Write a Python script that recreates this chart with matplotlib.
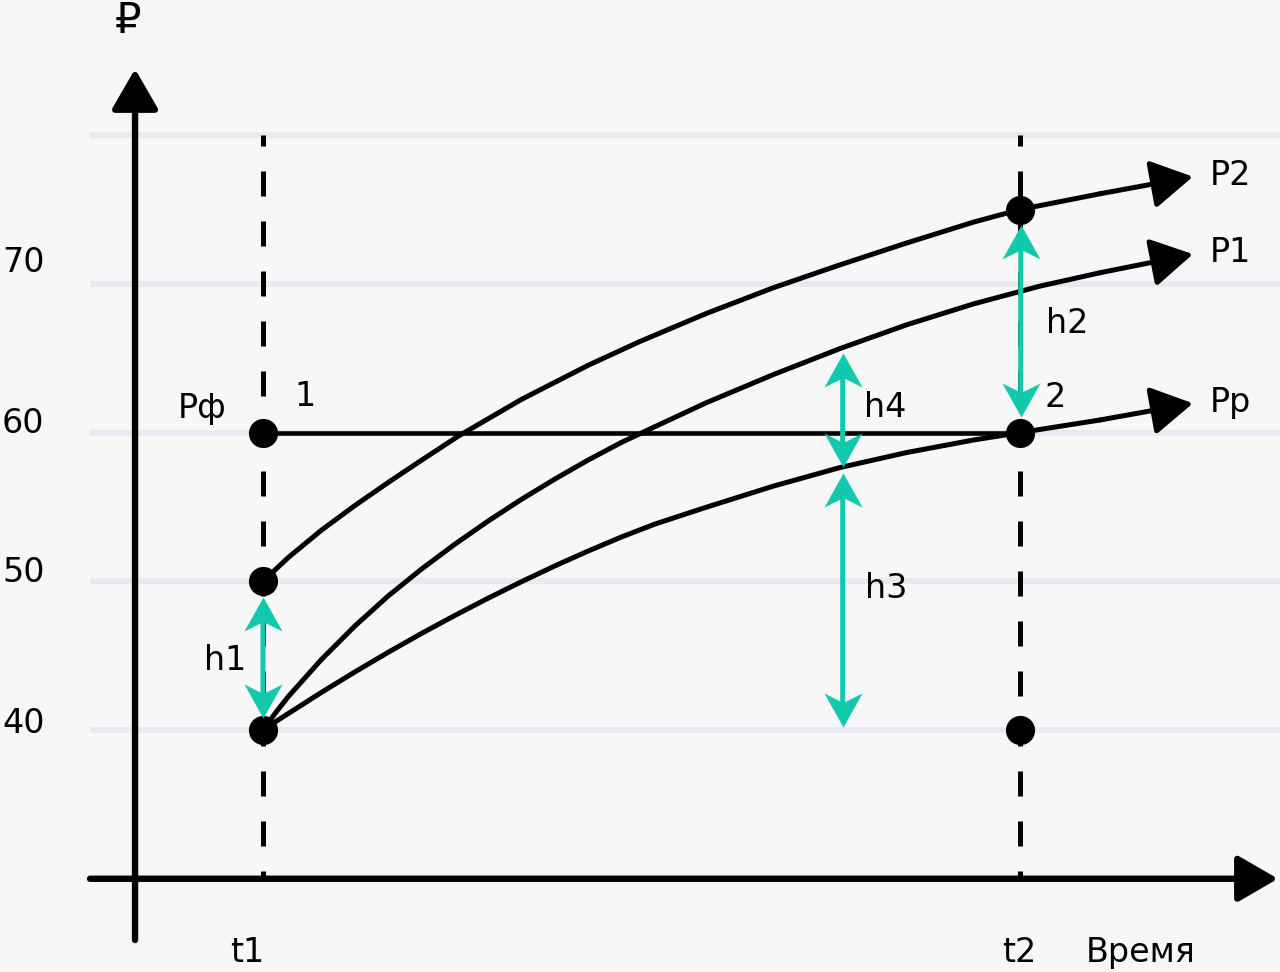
import matplotlib
matplotlib.use("Agg")
import matplotlib.pyplot as plt
from matplotlib.path import Path
from matplotlib.patches import ArrowStyle

plt.rcParams['font.family'] = ['DejaVu Sans', 'Noto Sans']

# ---------------- data ----------------
t1, t2 = 0.0, 10.0
grid_levels = [40, 50, 60, 70, 80]
ytick_labels = ["70", "60", "50", "40"]
ytick_pos = [70.8, 59.97, 49.97, 39.8]

P2_x = [0, 0.334, 0.775, 1.215, 1.655, 2.096, 2.576, 3.417, 4.297, 4.980, 5.861,
        6.741, 7.622, 8.503, 9.383, 10.0, 11.057]
P2_y = [50, 51.6, 53.45, 55.1, 56.65, 58.15, 59.75, 62.24, 64.53, 66.13, 68.02,
        69.74, 71.28, 72.75, 74.15, 75.0, 76.06]
P2_tip = (12.285, 77.21)

P1_x = [0, 0.159, 0.334, 0.775, 1.215, 1.655, 2.096, 2.536, 2.976, 3.417, 3.857,
        4.297, 4.739, 5.178, 5.861, 6.741, 7.622, 8.503, 9.383, 10.264, 11.057]
P1_y = [40, 41.11, 42.25, 44.76, 47.0, 49.02, 50.83, 52.5, 54.06, 55.52, 56.88,
        58.16, 59.35, 60.4, 62.02, 63.9, 65.65, 67.25, 68.65, 69.85, 70.75]
P1_tip = (12.285, 72.0)

Pp_x = [0, 0.159, 0.775, 1.215, 1.655, 2.096, 2.536, 2.976, 3.417, 3.857, 4.297,
        4.739, 5.178, 5.861, 6.741, 7.622, 8.503, 9.383, 10.0, 11.057]
Pp_y = [40, 40.54, 42.54, 43.91, 45.23, 46.5, 47.71, 48.87, 49.98, 51.04, 52.04,
        52.99, 53.85, 54.99, 56.4, 57.65, 58.66, 59.5, 60.0, 60.85]
Pp_tip = (12.285, 61.97)

dots_x = [t1, t1, t1, t2, t2, t2]
dots_y = [60, 50, 40, 75, 60, 40]

P_f = 60  # Рф level

# double-headed gaps: (x, top, bottom)
gaps = {
    "h1": (0.0, 48.94, 40.79),
    "h2": (10.01, 73.96, 61.07),
    "h4": (7.658, 65.33, 57.71),
    "h3": (7.658, 57.26, 40.22),
}

labels = [  # text, x, y (baseline, left)
    ("Рф", -1.12, 60.98),
    ("1", 0.42, 61.79),
    ("2", 10.33, 61.74),
    ("h1", -0.78, 44.03),
    ("h2", 10.35, 66.70),
    ("h4", 7.94, 61.05),
    ("h3", 7.95, 48.88),
    ("P2", 12.51, 76.65),
    ("P1", 12.51, 71.49),
    ("Pp", 12.51, 61.39),
    ("t1", -0.44, 24.42),
    ("t2", 9.76, 24.42),
    ("Время", 10.87, 24.42),
]
currency = ("₽", -1.96, 86.87)

# axis geometry
yaxis_x, yaxis_bottom, yaxis_top = -1.69, 25.88, 84.45
xaxis_y, xaxis_left, xaxis_right = 30.0, -2.285, 13.408
grid_left, grid_right = -2.285, 13.435

# ---------------- style ----------------
BG = '#f7f7f7'
GRID = '#e8eaf2'
TEAL = '#13c9ad'
K = '#000000'
FS = 24

fig = plt.figure(figsize=(12.8, 9.72), dpi=100, facecolor=BG)
ax = fig.add_axes([0, 0, 1, 1])
ax.set_facecolor(BG)
ax.set_xlim(-3.474, 13.435)
ax.set_ylim(23.73, 89.09)
ax.axis('off')

for g in grid_levels:
    ax.plot([grid_left, grid_right], [g, g], color=GRID, lw=4.3, zorder=1,
            solid_capstyle='butt')

# dashed verticals
for t in (t1, t2):
    ax.plot([t, t], [80, 30], color=K, lw=3.6, linestyle=(2.8, (5, 5)),
            dash_capstyle='butt', zorder=2)

head = ArrowStyle('-|>', head_length=0.95, head_width=0.55)

# axes
ax.annotate('', xy=(yaxis_x, yaxis_top), xytext=(yaxis_x, yaxis_bottom),
            arrowprops=dict(arrowstyle=head, mutation_scale=26, lw=4.6, color=K,
                            shrinkA=0, shrinkB=0), zorder=3)
ax.annotate('', xy=(xaxis_right, xaxis_y), xytext=(xaxis_left, xaxis_y),
            arrowprops=dict(arrowstyle=head, mutation_scale=26, lw=4.6, color=K,
                            shrinkA=0, shrinkB=0), zorder=3)

# Рф horizontal
ax.plot([t1, t2], [P_f, P_f], color=K, lw=3.3, zorder=3)

# curves
for xs, ys, tip in ((P2_x, P2_y, P2_tip), (P1_x, P1_y, P1_tip), (Pp_x, Pp_y, Pp_tip)):
    ax.plot(xs, ys, color=K, lw=3.6, solid_capstyle='round',
            solid_joinstyle='round', zorder=4)
    ax.annotate('', xy=tip, xytext=(xs[-1], ys[-1]),
                arrowprops=dict(arrowstyle=head, mutation_scale=27, lw=3.6,
                                color=K, shrinkA=0, shrinkB=0), zorder=4)

# dots
ax.plot(dots_x, dots_y, 'o', color=K, ms=21, mew=0, zorder=5)

# teal double arrows
up_head = Path([(0, 0), (0.56, -1.0), (0, -0.72), (-0.56, -1.0), (0, 0)],
               [Path.MOVETO, Path.LINETO, Path.LINETO, Path.LINETO, Path.CLOSEPOLY])
down_head = Path([(0, 0), (0.56, 1.0), (0, 0.72), (-0.56, 1.0), (0, 0)],
                 [Path.MOVETO, Path.LINETO, Path.LINETO, Path.LINETO, Path.CLOSEPOLY])
for name, (gx, top, bot) in gaps.items():
    ax.annotate('', xy=(gx, top), xytext=(gx, bot),
                arrowprops=dict(arrowstyle='-', lw=3.6, color=TEAL,
                                shrinkA=12, shrinkB=12), zorder=6)
    ax.plot([gx], [top], marker=up_head, ms=49, color=TEAL, mew=0, zorder=6)
    ax.plot([gx], [bot], marker=down_head, ms=49, color=TEAL, mew=0, zorder=6)

# texts
for s, x, y in labels:
    ax.text(x, y, s, fontsize=FS, color=K, ha='left', va='baseline', zorder=7)
for s, y in zip(ytick_labels, ytick_pos):
    ax.text(-3.448, y, s, fontsize=FS, color=K, ha='left', va='baseline', zorder=7)
ax.text(currency[1], currency[2], currency[0], fontsize=30, color=K,
        ha='left', va='baseline', zorder=7)

fig.savefig('out.png', dpi=100, facecolor=BG)
